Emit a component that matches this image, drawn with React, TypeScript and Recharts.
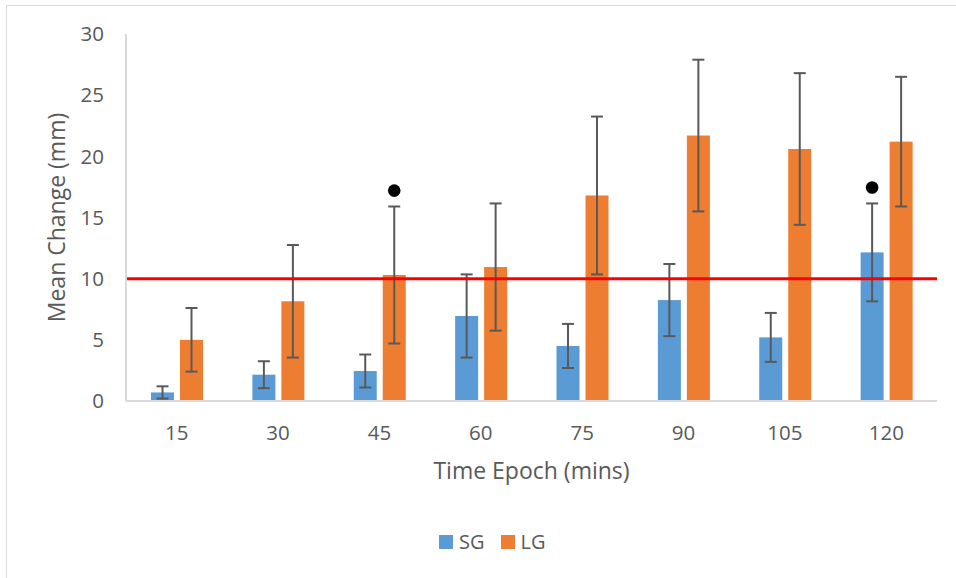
import React from 'react'
import { BarChart, Bar, XAxis, YAxis, ErrorBar, ReferenceLine, Legend } from 'recharts'

const epochs = ['15', '30', '45', '60', '75', '90', '105', '120']
const sgMean = [0.7, 2.15, 2.45, 6.95, 4.5, 8.25, 5.2, 12.15]
const sgErr = [0.5, 1.1, 1.35, 3.4, 1.8, 2.95, 2.0, 4.0]
const lgMean = [5.0, 8.15, 10.3, 10.95, 16.8, 21.7, 20.6, 21.2]
const lgErr = [2.6, 4.6, 5.6, 5.2, 6.45, 6.2, 6.2, 5.3]
// significance markers (value where the dot sits), null = none
const sgSig = [null, null, null, null, null, null, null, 17.45]
const lgSig = [null, null, 17.2, null, null, null, null, null]
const yTicks = [0, 5, 10, 15, 20, 25, 30]
const threshold = 10

const data = epochs.map((e, i) => ({
  epoch: e,
  SG: sgMean[i],
  sgErr: sgErr[i],
  sgSig: sgSig[i],
  LG: lgMean[i],
  lgErr: lgErr[i],
  lgSig: lgSig[i],
}))

const FONT = '"Open Sans", sans-serif'
const TEXT = '#595959'
const BLUE = '#5B9BD5'
const ORANGE = '#ED7D31'

// bar + optional black dot; dot height derived from the bar's own px/unit
const sigShape = (sigKey: string) => (props: any) => {
  const { x, y, width, height, fill, payload, value } = props
  const sig = payload?.[sigKey]
  const v = Array.isArray(value) ? value[1] - value[0] : value
  let dot = null
  if (sig != null && v) {
    const k = height / v
    dot = <circle cx={x + width / 2} cy={y + height - sig * k} r={6.3} fill="#000" />
  }
  return (
    <g>
      <rect x={x} y={y} width={width} height={height} fill={fill} />
      {dot}
    </g>
  )
}

function ChartLegend() {
  const item = (label: string, color: string) => (
    <div style={{ display: 'flex', alignItems: 'center', gap: 6 }}>
      <div style={{ width: 14, height: 14, background: color }} />
      <span>{label}</span>
    </div>
  )
  return (
    <div style={{ display: 'flex', gap: 16, fontFamily: FONT, fontSize: 20, color: TEXT, lineHeight: '28px' }}>
      {item('SG', BLUE)}
      {item('LG', ORANGE)}
    </div>
  )
}

export default function App() {
  return (
    <div style={{ position: 'absolute', left: 0, top: 0, width: 956, height: 578, background: '#fff', overflow: 'hidden' }}>
      <div style={{ position: 'absolute', left: 6, top: 5, width: 1000, height: 620, border: '1px solid #d9d9d9' }} />
      <div style={{ position: 'absolute', left: 0, top: 0 }}>
        <BarChart
          width={956}
          height={578}
          data={data}
          margin={{ top: 34, right: 19, bottom: 97, left: 40 }}
          barCategoryGap={25}
          barGap={6}
        >
          <XAxis
            dataKey="epoch"
            height={80}
            tickLine={false}
            tickSize={0}
            tickMargin={24}
            axisLine={{ stroke: '#d9d9d9', strokeWidth: 2 }}
            tick={{ fill: TEXT, fontSize: 20.5, fontFamily: FONT }}
            label={{ value: 'Time Epoch (mins)', position: 'insideBottom', offset: 2, fill: TEXT, fontSize: 23, fontFamily: FONT }}
          />
          <YAxis
            width={86}
            domain={[0, 30]}
            ticks={yTicks}
            tickLine={false}
            tickSize={0}
            tickMargin={22}
            axisLine={{ stroke: '#d9d9d9', strokeWidth: 2 }}
            tick={{ fill: TEXT, fontSize: 20.5, fontFamily: FONT }}
            label={{ value: 'Mean Change (mm)', angle: -90, position: 'insideLeft', offset: 17, fill: TEXT, fontSize: 23, fontFamily: FONT, style: { textAnchor: 'middle' } }}
          />
          <Legend
            layout="horizontal"
            verticalAlign="middle"
            align="center"
            content={() => <ChartLegend />}
            wrapperStyle={{ left: 439, top: 528, width: 'auto' }}
          />
          <Bar dataKey="SG" fill={BLUE} isAnimationActive={false} shape={sigShape('sgSig')}>
            <ErrorBar dataKey="sgErr" width={6} stroke="#595959" strokeWidth={2} />
          </Bar>
          <Bar dataKey="LG" fill={ORANGE} isAnimationActive={false} shape={sigShape('lgSig')}>
            <ErrorBar dataKey="lgErr" width={6} stroke="#595959" strokeWidth={2} />
          </Bar>
          <ReferenceLine y={threshold} stroke="#FF0000" strokeWidth={3} />
        </BarChart>
      </div>
    </div>
  )
}
